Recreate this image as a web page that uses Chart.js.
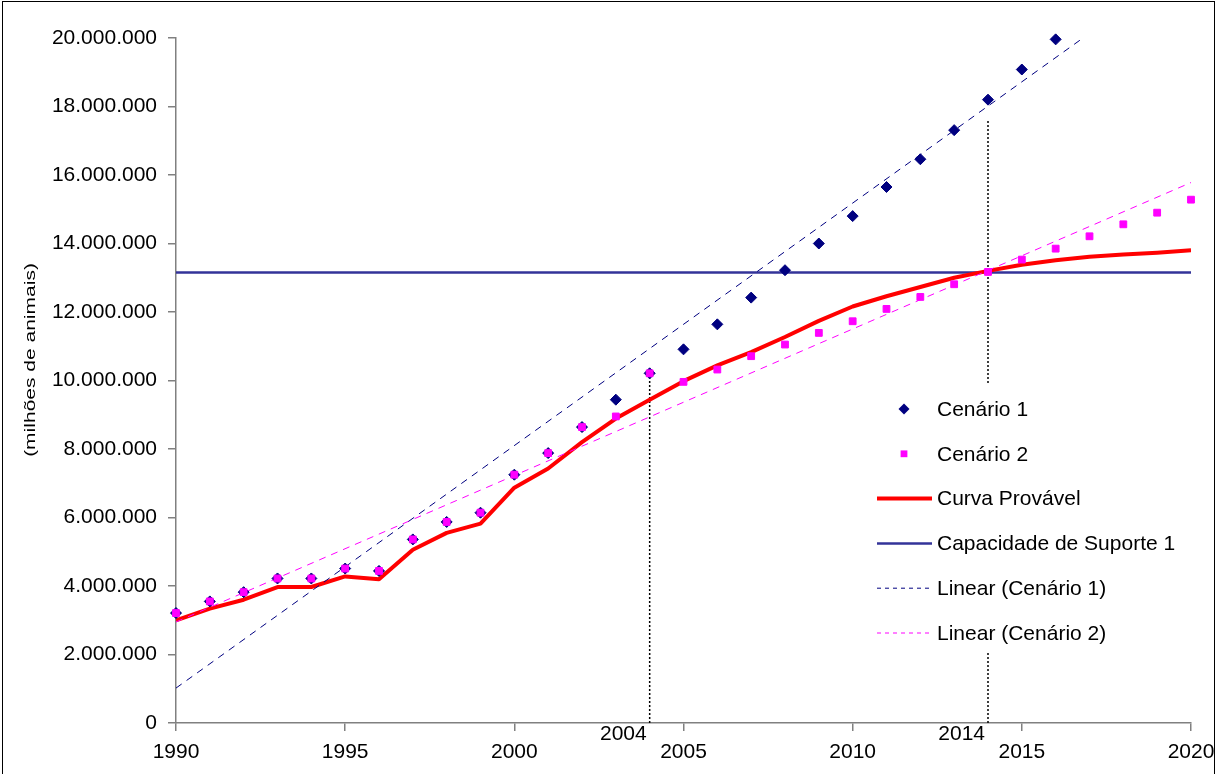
<!DOCTYPE html>
<html>
<head>
<meta charset="utf-8">
<script src="https://cdn.jsdelivr.net/npm/chart.js@4.4.0/dist/chart.umd.min.js"></script>
<style>
  html, body { margin: 0; padding: 0; background: #fff; }
  #wrap { width: 1217px; height: 774px; position: relative; }
</style>
</head>
<body>
<div id="wrap"><canvas id="chart"></canvas></div>
<script>
// anos do eixo x
const anos = [1990, 1991, 1992, 1993, 1994, 1995, 1996, 1997, 1998, 1999, 2000,
              2001, 2002, 2003, 2004, 2005, 2006, 2007, 2008, 2009, 2010,
              2011, 2012, 2013, 2014, 2015, 2016, 2017, 2018, 2019, 2020];
const anosCenario1 = anos.slice(0, 27); // 1990 - 2016

const cenario1 = [3210000, 3550000, 3820000, 4220000, 4220000, 4510000, 4440000, 5360000,
                  5870000, 6140000, 7250000, 7880000, 8640000, 9440000, 10210000, 10910000,
                  11640000, 12420000, 13220000, 14000000, 14800000, 15650000, 16460000,
                  17310000, 18200000, 19080000, 19960000];

const cenario2 = [3210000, 3550000, 3820000, 4220000, 4220000, 4510000, 4440000, 5360000,
                  5870000, 6140000, 7250000, 7880000, 8640000, 8950000, 10210000, 9960000,
                  10320000, 10710000, 11050000, 11390000, 11730000, 12090000, 12440000,
                  12810000, 13170000, 13530000, 13850000, 14210000, 14560000, 14900000, 15280000];

const curvaProvavel = [3000000, 3340000, 3600000, 3970000, 3970000, 4280000, 4200000, 5060000,
                       5550000, 5820000, 6870000, 7430000, 8200000, 8890000, 9440000, 9980000,
                       10440000, 10830000, 11270000, 11740000, 12160000, 12460000, 12730000,
                       13000000, 13200000, 13380000, 13510000, 13610000, 13680000, 13730000, 13800000];

const capacidadeSuporte = 13150000;
const capacidadeAnos = [1990, 2020];

// tendencias lineares (pontas)
const linear1Anos = [1990, 2020];
const linear1Valores = [1020000, 22260000];
const linear2Anos = [1990, 2020];
const linear2Valores = [2950000, 15780000];

// linhas pontilhadas de referencia
const marcosAnos = [2004, 2014];
const marcosTopo = [10100000, 17600000];

const yTicks = { min: 0, max: 20000000, step: 2000000 };
const xTicks = { min: 1990, max: 2020, step: 5 };

const FONTE = '"Liberation Sans", Arial, sans-serif';
Chart.defaults.font.family = FONTE;
Chart.defaults.color = '#000';

function pares(xs, ys) {
    return xs.map((x, i) => ({ x: x, y: ys[i] }));
}

function formatarMilhar(v) {
    return String(v).replace(/\B(?=(\d{3})+(?!\d))/g, '.');
}

const datasets = [
    {
        label: 'Cenário 2', legenda: 1, order: 0,
        data: pares(anos, cenario2),
        showLine: false, clip: false,
        pointStyle: 'rect', pointRadius: 4.8, pointHoverRadius: 4.8,
        backgroundColor: '#FF00FF', borderColor: '#FF00FF', borderWidth: 1
    },
    {
        label: 'Cenário 1', legenda: 0, order: 1,
        data: pares(anosCenario1, cenario1),
        showLine: false, clip: false,
        pointStyle: 'rectRot', pointRadius: 5.5, pointHoverRadius: 5.5,
        backgroundColor: '#000080', borderColor: '#000080', borderWidth: 1
    },
    {
        label: 'Linear (Cenário 1)', legenda: 4, order: 2,
        data: pares(linear1Anos, linear1Valores),
        showLine: true, pointRadius: 0,
        borderColor: '#000080', borderWidth: 1, borderDash: [7, 6]
    },
    {
        label: 'Linear (Cenário 2)', legenda: 5, order: 3,
        data: pares(linear2Anos, linear2Valores),
        showLine: true, pointRadius: 0,
        borderColor: '#FF00FF', borderWidth: 1, borderDash: [7, 6]
    },
    {
        label: 'Curva Provável', legenda: 2, order: 4,
        data: pares(anos, curvaProvavel),
        showLine: true, pointRadius: 0,
        borderColor: '#FF0000', borderWidth: 4, borderJoinStyle: 'round'
    },
    {
        label: 'Capacidade de Suporte 1', legenda: 3, order: 5,
        data: pares(capacidadeAnos, capacidadeAnos.map(() => capacidadeSuporte)),
        showLine: true, pointRadius: 0,
        borderColor: '#333399', borderWidth: 2.5
    }
];

marcosAnos.forEach((a, i) => {
    datasets.push({
        label: 'marco ' + a, order: 6,
        data: [{ x: a, y: 0 }, { x: a, y: marcosTopo[i] }],
        showLine: true, pointRadius: 0,
        borderColor: '#000', borderWidth: 1.5, borderDash: [2, 2]
    });
});

// moldura e fundo
const molduraPlugin = {
    id: 'moldura',
    beforeDraw(chart) {
        const ctx = chart.ctx;
        ctx.save();
        ctx.fillStyle = '#fff';
        ctx.fillRect(0, 0, chart.width, chart.height);
        ctx.strokeStyle = '#000';
        ctx.lineWidth = 1;
        ctx.strokeRect(2.5, 1.5, 1212, 800);
        ctx.restore();
    }
};

// legenda dentro da area do grafico, com fundo branco
const legendaPlugin = {
    id: 'legenda',
    afterDatasetsDraw(chart) {
        const ctx = chart.ctx;
        const itens = chart.data.datasets
            .filter(d => d.legenda !== undefined)
            .sort((a, b) => a.legenda - b.legenda);
        ctx.save();
        ctx.fillStyle = '#fff';
        ctx.fillRect(868, 383, 322, 270);
        ctx.font = '21px ' + FONTE;
        ctx.textBaseline = 'middle';
        ctx.textAlign = 'left';
        itens.forEach((ds, i) => {
            const y = 409 + i * 44.8;
            if (ds.showLine) {
                ctx.strokeStyle = ds.borderColor;
                ctx.lineWidth = ds.borderWidth;
                ctx.setLineDash(ds.borderDash ? [4, 4] : []);
                ctx.beginPath();
                ctx.moveTo(877, y);
                ctx.lineTo(932, y);
                ctx.stroke();
                ctx.setLineDash([]);
            } else {
                ctx.fillStyle = ds.backgroundColor;
                ctx.beginPath();
                if (ds.pointStyle === 'rectRot') {
                    const r = ds.pointRadius;
                    ctx.moveTo(904 - r, y);
                    ctx.lineTo(904, y - r);
                    ctx.lineTo(904 + r, y);
                    ctx.lineTo(904, y + r);
                    ctx.closePath();
                } else {
                    const s = ds.pointRadius * Math.SQRT1_2;
                    ctx.rect(904 - s, y - s, 2 * s, 2 * s);
                }
                ctx.fill();
            }
            ctx.fillStyle = '#000';
            ctx.fillText(ds.label, 937, y + 1);
        });
        ctx.restore();
    }
};

// titulo do eixo y e rotulos 2004 / 2014
const textosPlugin = {
    id: 'textos',
    afterDraw(chart) {
        const ctx = chart.ctx;
        ctx.save();
        ctx.fillStyle = '#000';
        ctx.translate(31, 360);
        ctx.rotate(-Math.PI / 2);
        ctx.scale(1.4, 1);
        ctx.font = '15px ' + FONTE;
        ctx.textAlign = 'center';
        ctx.textBaseline = 'middle';
        ctx.fillText('(milhões de animais)', 0, 0);
        ctx.restore();

        ctx.save();
        ctx.fillStyle = '#000';
        ctx.font = '21px ' + FONTE;
        ctx.textAlign = 'right';
        ctx.textBaseline = 'middle';
        const xs = chart.scales.x;
        marcosAnos.forEach(a => {
            ctx.fillText(String(a), xs.getPixelForValue(a) - 3, 734);
        });
        ctx.restore();
    }
};

new Chart(document.getElementById('chart'), {
    type: 'scatter',
    data: { datasets: datasets },
    options: {
        responsive: true,
        maintainAspectRatio: false,
        animation: false,
        layout: { padding: { left: 0, right: 26, top: 38, bottom: 0 } },
        plugins: {
            legend: { display: false },
            tooltip: { enabled: false }
        },
        scales: {
            x: {
                type: 'linear',
                min: xTicks.min,
                max: xTicks.max,
                afterFit(scale) {
                    scale.height = 51;
                    scale.paddingLeft = 0;
                    scale.paddingRight = 0;
                },
                border: { display: true, color: '#808080', width: 1.5 },
                grid: { drawOnChartArea: false, drawTicks: true, tickLength: 8, color: '#808080', lineWidth: 1.5 },
                ticks: {
                    stepSize: xTicks.step,
                    padding: 9,
                    font: { size: 21 },
                    color: '#000',
                    callback: v => String(v)
                }
            },
            y: {
                min: yTicks.min,
                max: yTicks.max,
                afterFit(scale) {
                    scale.width = 176;
                    scale.paddingTop = 0;
                    scale.paddingBottom = 0;
                },
                border: { display: true, color: '#808080', width: 1.5 },
                grid: { drawOnChartArea: false, drawTicks: true, tickLength: 8, color: '#808080', lineWidth: 1.5 },
                ticks: {
                    stepSize: yTicks.step,
                    padding: 11,
                    font: { size: 21 },
                    color: '#000',
                    callback: v => formatarMilhar(v)
                }
            }
        }
    },
    plugins: [molduraPlugin, legendaPlugin, textosPlugin]
});
</script>
</body>
</html>
